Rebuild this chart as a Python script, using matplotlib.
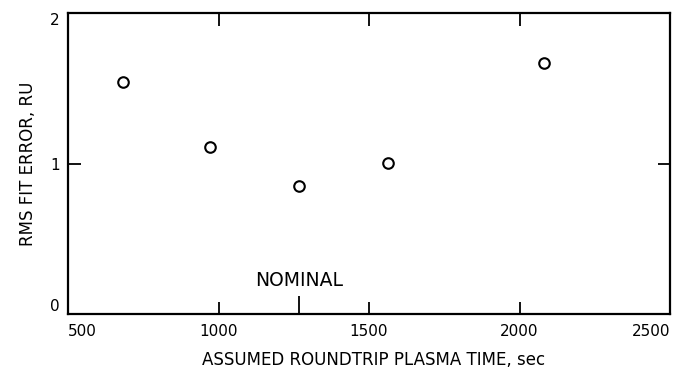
import matplotlib
matplotlib.use("Agg")
import matplotlib.pyplot as plt

# Data
roundtrip_time = [682, 972, 1267, 1564, 2082]
rms_error = [1.543, 1.108, 0.850, 1.005, 1.666]
nominal_time = 1267

x_ticks = [500, 1000, 1500, 2000, 2500]
x_tick_labels = ["500", "1000", "1500", "2000", "2500"]
y_ticks = [0, 1, 2]
y_tick_labels = ["0", "1", "2"]

plt.rcParams['font.family'] = ['DejaVu Sans']

fig = plt.figure(figsize=(6.74, 3.72), dpi=100)
ax = fig.add_axes([68/674, 1 - 314/372, (670-68)/674, (314-13)/372])

ax.plot(roundtrip_time, rms_error, linestyle='none', marker='o',
        markersize=7.6, markerfacecolor='white', markeredgecolor='black',
        markeredgewidth=1.5, zorder=3)

ax.set_xlim(500, 2500)
ax.set_ylim(0, 2)

for s in ax.spines.values():
    s.set_linewidth(1.6)
    s.set_color('black')

ax.set_xticks(x_ticks)
ax.set_xticklabels(x_tick_labels, fontsize=11)
ax.set_yticks(y_ticks)
ax.set_yticklabels(y_tick_labels, fontsize=11)

ax.tick_params(axis='both', direction='in', length=9, width=1.3,
               top=True, right=True, colors='black')
ax.tick_params(axis='x', pad=7)
ax.tick_params(axis='y', pad=6)

# hide corner ticks (keep labels)
for t in ax.xaxis.get_major_ticks():
    if t.get_loc() in (500, 2500):
        t.tick1line.set_visible(False)
        t.tick2line.set_visible(False)
for t in ax.yaxis.get_major_ticks():
    if t.get_loc() in (0, 2):
        t.tick1line.set_visible(False)
        t.tick2line.set_visible(False)

xl = ax.get_xticklabels()
xl[0].set_ha('left')
xl[-1].set_ha('right')
yl = ax.get_yticklabels()
yl[0].set_va('bottom')
yl[-1].set_va('top')

ax.set_xlabel("ASSUMED ROUNDTRIP PLASMA TIME, sec", fontsize=12)
ax.xaxis.set_label_coords(0.508, -0.123)
ax.set_ylabel("RMS FIT ERROR, RU", fontsize=12)
ax.yaxis.set_label_coords(-0.052, 0.5)

# nominal marker
ax.plot([nominal_time, nominal_time], [0, 0.12], color='black', lw=1.3,
        solid_capstyle='butt', clip_on=False)
ax.text(nominal_time, 0.22, "NOMINAL", fontsize=13.5, ha='center',
        va='center')

fig.savefig("out.png", dpi=100)
